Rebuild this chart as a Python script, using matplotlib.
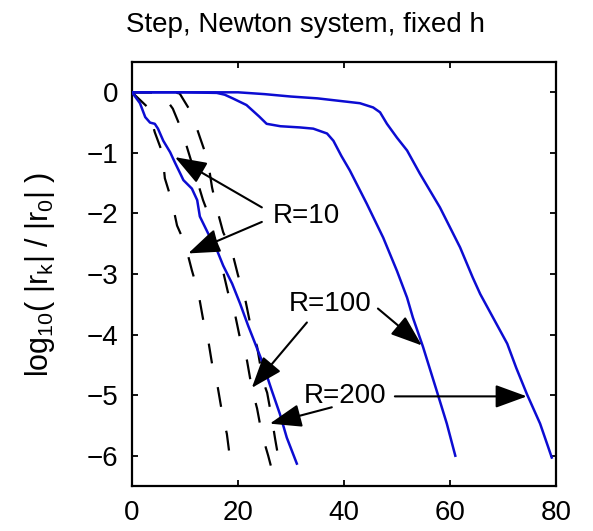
import matplotlib
matplotlib.use('Agg')
import matplotlib.pyplot as plt

plt.rcParams['font.family'] = ['Liberation Sans', 'DejaVu Sans']
plt.rcParams['mathtext.fontset'] = 'custom'
plt.rcParams['mathtext.rm'] = 'Liberation Sans'
plt.rcParams['mathtext.it'] = 'Liberation Sans'

# blue curves: iteration k vs log10(|r_k|/|r_0|)
r10_x = [0, 1.5, 2.5, 3.4, 4.3, 4.9, 5.9, 7.2, 8.1, 9.1, 9.7, 11.3, 12.3, 12.8, 14.7,
         16.0, 17.2, 18.9, 20.4, 21.9, 22.8, 24.5, 26.4, 27.9, 29.2, 31.1]
r10_y = [0, -0.18, -0.41, -0.50, -0.52, -0.60, -0.80, -0.99, -1.16, -1.34, -1.45, -1.59,
         -1.78, -2.05, -2.39, -2.60, -2.86, -3.16, -3.49, -3.85, -4.05, -4.43, -4.93,
         -5.31, -5.70, -6.13]

r100_x = [0, 10, 16, 17.5, 19, 21.6, 24, 25.4, 28, 31.7, 34.2, 36.8, 38, 39.5, 41.1,
          44.3, 47.4, 50, 51.9, 53, 54.9, 57.5, 59.4, 61]
r100_y = [0, 0, -0.01, -0.04, -0.10, -0.21, -0.40, -0.52, -0.56, -0.58, -0.60, -0.68,
          -0.80, -1.05, -1.29, -1.84, -2.40, -2.95, -3.39, -3.72, -4.20, -4.93, -5.47, -6.0]

r200_x = [0, 20, 25, 30, 35, 40, 43, 45.5, 46.8, 48.1, 50, 51.9, 54.3, 58.1, 61.9,
          64.3, 65.7, 68, 70.8, 72.5, 74.5, 77, 78.5, 79.2]
r200_y = [0, 0, -0.03, -0.07, -0.10, -0.15, -0.18, -0.25, -0.33, -0.52, -0.75, -0.96,
          -1.34, -1.90, -2.56, -3.06, -3.33, -3.70, -4.15, -4.55, -4.98, -5.47, -5.85, -6.03]

# dashed curves
da_x = [0, 0.6, 3.0, 4.3, 5.7, 6.2, 7.5, 8.5, 10.0, 11.3, 12.5, 13.4, 14.3, 15.1, 16.2,
        17.0, 17.9, 18.5, 19.1]
da_y = [0, -0.05, -0.25, -0.66, -0.99, -1.42, -1.79, -2.2, -2.5, -2.94, -3.3, -3.74,
        -4.05, -4.48, -4.88, -5.29, -5.64, -6.05, -6.21]

db_x = [0, 5.5, 7.7, 9.4, 11.4, 13.4, 14.7, 16.5, 18.1, 19.4, 20.4, 21.7, 22.6, 23.6,
        24.5, 25.7, 26.3]
db_y = [0, 0, -0.27, -0.63, -1.2, -1.78, -2.08, -2.7, -3.3, -3.65, -4.07, -4.43, -4.88,
        -5.22, -5.64, -6.0, -6.2]

dc_x = [0, 8.0, 9.0, 11.3, 12.8, 14.3, 15.1, 16.0, 17.2, 18.9, 20.0, 21.3, 22.3, 23.6,
        24.7, 25.5, 26.4, 27.0, 27.9]
dc_y = [0, 0, -0.02, -0.35, -0.74, -1.12, -1.57, -1.92, -2.31, -2.64, -3.02, -3.39,
        -3.82, -4.2, -4.76, -4.96, -5.39, -5.72, -6.17]

# annotation labels and arrows (tail, tip) in data coordinates
labels = ['R=10', 'R=100', 'R=200']
label_pos = [(26.5, -2.05), (29.5, -3.5), (32.5, -5.02)]
arrows = [
    [((24.5, -1.9), (8.1, -1.07)), ((24.5, -2.14), (10.6, -2.66))],
    [((33.0, -3.8), (22.6, -4.88)), ((46.4, -3.57), (54.7, -4.18))],
    [((37.7, -5.2), (26.0, -5.47)), ((49.6, -5.02), (74.5, -5.02))],
]

fs = 20

fig = plt.figure(figsize=(5.93, 5.31), dpi=100)
ax = fig.add_axes([0.2226, 0.0847, 0.715, 0.7985])

blue = '#0c0cd2'
for xs, ys in [(r10_x, r10_y), (r100_x, r100_y), (r200_x, r200_y)]:
    ax.plot(xs, ys, color=blue, lw=1.8, zorder=3)
for xs, ys in [(da_x, da_y), (db_x, db_y), (dc_x, dc_y)]:
    ax.plot(xs, ys, color='k', lw=1.6, dashes=(9, 11), zorder=2)

for lab, pos, arr in zip(labels, label_pos, arrows):
    ax.text(pos[0], pos[1], lab, fontsize=fs, ha='left', va='center', zorder=5)
    for tail, tip in arr:
        ax.annotate('', xy=tip, xytext=tail,
                    arrowprops=dict(arrowstyle='-|>,head_length=1.15,head_width=0.42',
                                    mutation_scale=17, lw=1.5, color='k',
                                    shrinkA=0, shrinkB=0), zorder=4)

ax.set_xlim(0, 80)
ax.set_ylim(-6.5, 0.5)
ax.set_xticks([0, 20, 40, 60, 80])
ax.set_yticks([-6, -5, -4, -3, -2, -1, 0])
ax.tick_params(direction='in', length=4, width=1.3, top=True, right=True, labelsize=fs)
ax.tick_params(axis='x', pad=10)
ax.tick_params(axis='y', pad=10)
for s in ax.spines.values():
    s.set_linewidth(1.6)

fig.text(305 / 593, 1 - 25 / 531, 'Step, Newton system, fixed h', fontsize=fs,
         ha='center', va='center')
fig.text(40 / 593, 1 - 274 / 531, r'log$_{10}$( |r$_k$| / |r$_0$| )', fontsize=fs + 2,
         rotation=90, ha='center', va='center')

fig.savefig('out.png', dpi=100)
